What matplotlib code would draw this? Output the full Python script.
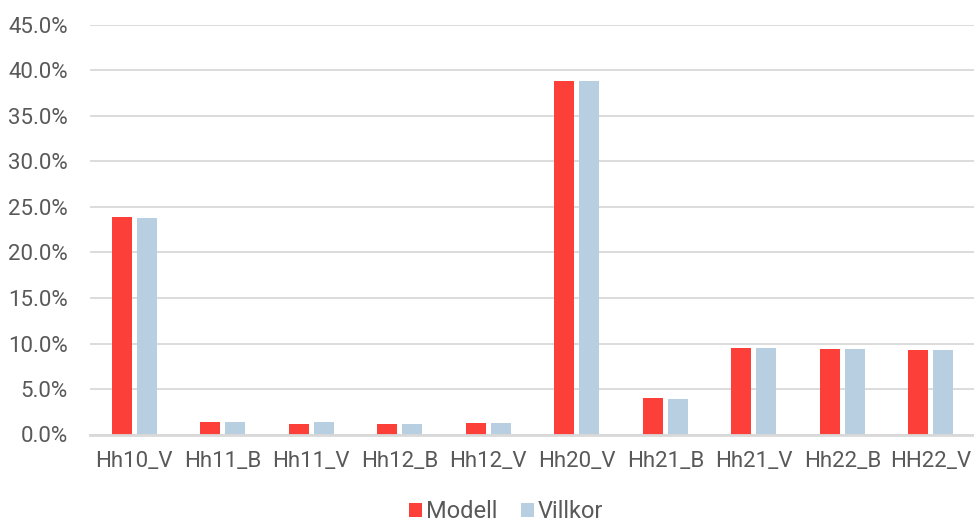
import matplotlib
matplotlib.use("Agg")
import matplotlib.pyplot as plt
import numpy as np
from matplotlib.ticker import FuncFormatter, MultipleLocator

categories = ["Hh10_V", "Hh11_B", "Hh11_V", "Hh12_B", "Hh12_V",
              "Hh20_V", "Hh21_B", "Hh21_V", "Hh22_B", "HH22_V"]
modell = [23.9, 1.40, 1.18, 1.18, 1.29, 38.8, 4.02, 9.56, 9.45, 9.26]
villkor = [23.8, 1.40, 1.36, 1.18, 1.29, 38.8, 3.91, 9.56, 9.45, 9.26]

RED = "#FC4039"
BLUE = "#B8CFE2"
GRID = "#D9D9D9"
TEXT = "#595959"

plt.rcParams["font.family"] = ["Roboto", "DejaVu Sans"]

fig = plt.figure(figsize=(9.74, 5.27), dpi=100)
ax = fig.add_axes([90 / 974, 1 - 434.5 / 527, 885 / 974, (434.5 - 25) / 527])

x = np.arange(len(categories))
w = 0.226
off = 0.141
ax.bar(x - off, modell, width=w, color=RED, label="Modell", zorder=3)
ax.bar(x + off, villkor, width=w, color=BLUE, label="Villkor", zorder=3)

ax.set_xlim(-0.5, len(categories) - 0.5)
ax.set_ylim(0, 45)
ax.yaxis.set_major_locator(MultipleLocator(5))
ax.yaxis.set_major_formatter(FuncFormatter(lambda v, p: f"{v:.1f}%"))
ax.grid(axis="y", color=GRID, linewidth=1.3, zorder=0)
ax.set_axisbelow(True)

for s in ["top", "right", "left"]:
    ax.spines[s].set_visible(False)
ax.spines["bottom"].set_color(GRID)
ax.spines["bottom"].set_linewidth(2)
ax.spines["bottom"].set_zorder(4)

ax.set_xticks(x)
ax.set_xticklabels(categories)
ax.tick_params(axis="both", length=0, labelsize=16, colors=TEXT)
ax.tick_params(axis="x", pad=12)
ax.tick_params(axis="y", pad=16)

leg = fig.legend(loc="lower center", bbox_to_anchor=(506 / 974, -0.033), ncol=2,
                 frameon=False, fontsize=17, handlelength=0.55, handleheight=0.55,
                 handletextpad=0.17, columnspacing=1.0)
for t in leg.get_texts():
    t.set_color(TEXT)

fig.savefig("out.png", dpi=100)
